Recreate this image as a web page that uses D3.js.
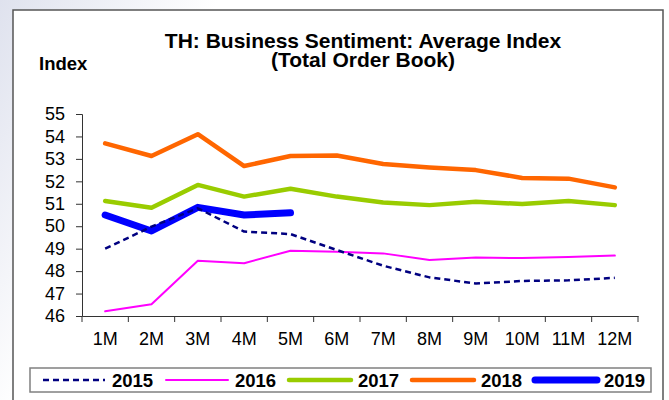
<!DOCTYPE html>
<html>
<head>
<meta charset="utf-8">
<script src="https://cdn.jsdelivr.net/npm/d3@7"></script>
<style>
  body { margin: 0; background: #fff; }
  svg { display: block; font-family: "Liberation Sans", Arial, sans-serif; }
</style>
</head>
<body>
<div id="chart"></div>
<script>
// months on the x axis
const months = ['1M','2M','3M','4M','5M','6M','7M','8M','9M','10M','11M','12M'];
const yTicks = [46,47,48,49,50,51,52,53,54,55];

// series values
const v2015 = [49.0, 49.98, 50.8, 49.76, 49.65, 48.94, 48.24, 47.72, 47.45, 47.56, 47.59, 47.7];
const v2016 = [46.21, 46.52, 48.46, 48.35, 48.91, 48.86, 48.79, 48.49, 48.61, 48.58, 48.63, 48.69];
const v2017 = [51.12, 50.82, 51.84, 51.32, 51.67, 51.32, 51.06, 50.94, 51.09, 50.99, 51.12, 50.94];
const v2018 = [53.69, 53.13, 54.1, 52.68, 53.13, 53.15, 52.77, 52.62, 52.5, 52.15, 52.12, 51.73];
const v2019 = [50.5, 49.79, 50.84, 50.5, 50.6];

const series = [
  {name: '2015', values: v2015, color: '#000080', width: 2.5, dash: '6,4'},
  {name: '2016', values: v2016, color: '#FF00FF', width: 2,   dash: null},
  {name: '2017', values: v2017, color: '#99CC00', width: 4.5, dash: null},
  {name: '2018', values: v2018, color: '#FF6600', width: 4.5, dash: null},
  {name: '2019', values: v2019, color: '#0000FF', width: 7,   dash: null}
];

const W = 669, H = 400;
const plot = {left: 82, right: 638, top: 114, bottom: 316};

const svg = d3.select('#chart').append('svg')
  .attr('width', W).attr('height', H);

// slide background
const grad = svg.append('defs').append('linearGradient')
  .attr('id', 'bg').attr('x1', 0).attr('x2', 1).attr('y1', 0).attr('y2', 0.3);
grad.append('stop').attr('offset', '0%').attr('stop-color', '#dfe2ee');
grad.append('stop').attr('offset', '30%').attr('stop-color', '#ffffff');
svg.append('rect').attr('width', W).attr('height', H).attr('fill', 'url(#bg)');

// chart frame
svg.append('rect')
  .attr('x', 13).attr('y', 10).attr('width', 650).attr('height', 400)
  .attr('fill', '#fff').attr('stroke', '#555').attr('stroke-width', 1.5);

// titles
svg.append('text').attr('x', 363).attr('y', 48).attr('text-anchor', 'middle')
  .style('font-weight', 'bold').style('font-size', '21px')
  .text('TH: Business Sentiment: Average Index');
svg.append('text').attr('x', 363).attr('y', 67).attr('text-anchor', 'middle')
  .style('font-weight', 'bold').style('font-size', '21px')
  .text('(Total Order Book)');
svg.append('text').attr('x', 39).attr('y', 70)
  .style('font-weight', 'bold').style('font-size', '18.5px')
  .text('Index');

// scales
const x = d3.scaleBand().domain(months).range([plot.left, plot.right]);
const y = d3.scaleLinear().domain([46, 55]).range([plot.bottom, plot.top]);

// y axis
const yAxis = svg.append('g')
  .attr('transform', `translate(${plot.left},0)`)
  .call(d3.axisLeft(y).tickValues(yTicks).tickSizeOuter(0).tickSize(6).tickPadding(11));
yAxis.selectAll('text').style('font-size', '18px').attr('fill', '#000');
yAxis.selectAll('line,path').attr('stroke', '#333');

// x axis, ticks on the band edges
const xAxis = svg.append('g')
  .attr('transform', `translate(0,${plot.bottom})`)
  .call(d3.axisBottom(x).tickSize(0).tickPadding(16));
xAxis.select('.domain').attr('stroke', '#333');
xAxis.selectAll('text').style('font-size', '18px').attr('fill', '#000').attr('dy', '0.71em');
const edges = months.map(m => x(m)).concat([plot.right]);
xAxis.selectAll('.edge').data(edges).enter().append('line')
  .attr('class', 'edge')
  .attr('x1', d => d).attr('x2', d => d)
  .attr('y1', 0).attr('y2', 6)
  .attr('stroke', '#333');

// lines
const line = d3.line()
  .x((d, i) => x(months[i]) + x.bandwidth() / 2)
  .y(d => y(d));

const drawOrder = [1, 2, 3, 4, 0];
svg.append('g').selectAll('path')
  .data(drawOrder.map(i => series[i]))
  .enter().append('path')
  .attr('d', d => line(d.values))
  .attr('fill', 'none')
  .attr('stroke', d => d.color)
  .attr('stroke-width', d => d.width)
  .attr('stroke-dasharray', d => d.dash)
  .attr('stroke-linejoin', 'round')
  .attr('stroke-linecap', d => d.dash ? 'butt' : 'round');

// legend
svg.append('rect')
  .attr('x', 30).attr('y', 368).attr('width', 621).attr('height', 24)
  .attr('fill', '#fff').attr('stroke', '#808080').attr('stroke-width', 1.5);

const leg = svg.append('g').selectAll('g')
  .data(series).enter().append('g')
  .attr('transform', (d, i) => `translate(${43 + i * 123},380)`);
leg.append('line')
  .attr('x1', 0).attr('x2', 62).attr('y1', 0).attr('y2', 0)
  .attr('stroke', d => d.color)
  .attr('stroke-width', d => d.width)
  .attr('stroke-dasharray', d => d.dash)
  .attr('stroke-linecap', d => d.dash ? 'butt' : 'round');
leg.append('text')
  .attr('x', 69).attr('y', 7)
  .style('font-weight', 'bold').style('font-size', '18.5px')
  .text(d => d.name);
</script>
</body>
</html>
